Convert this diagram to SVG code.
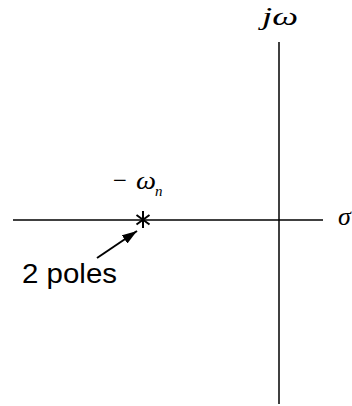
<svg xmlns="http://www.w3.org/2000/svg" width="352" height="406" viewBox="0 0 352 406">
<style>
.ax{stroke:#000;stroke-width:1.5;fill:none}
.m{font-family:"Liberation Serif",serif;font-style:italic;fill:#000}
.t{font-family:"Liberation Sans",Arial,sans-serif;fill:#000}
</style>
<defs>
<marker id="ah" viewBox="0 0 15 10" refX="15" refY="5" markerWidth="15" markerHeight="10" orient="auto" markerUnits="userSpaceOnUse">
<path d="M0,0 L15,5 L0,10 z" fill="#000"/>
</marker>
</defs>
<rect width="352" height="406" fill="#fff"/>
<g id="connectors">
<line class="ax" x1="13" y1="220" x2="323" y2="220"/>
<line class="ax" x1="279" y1="42" x2="279" y2="404"/>
<line x1="97" y1="258" x2="137" y2="231" stroke="#000" stroke-width="2" marker-end="url(#ah)"/>
</g>
<g id="pole">
<path d="M143,211 V228 M136.5,215 L149.5,224.5 M149.5,215 L136.5,224.5" stroke="#000" stroke-width="2"/>
</g>
<g id="labels">
<text class="m" x="262" y="25" font-size="25" textLength="36" lengthAdjust="spacingAndGlyphs">jω</text>
<text class="m" x="338" y="225" font-size="26">σ</text>
<text x="113" y="189" font-size="26" font-family="Liberation Serif,serif" textLength="14" lengthAdjust="spacingAndGlyphs">−</text>
<text class="m" x="136" y="189" font-size="26" textLength="20" lengthAdjust="spacingAndGlyphs">ω</text>
<text class="m" x="155" y="196" font-size="15">n</text>
<text class="t" x="22" y="283" font-size="28" textLength="95" lengthAdjust="spacingAndGlyphs">2 poles</text>
</g>
</svg>
